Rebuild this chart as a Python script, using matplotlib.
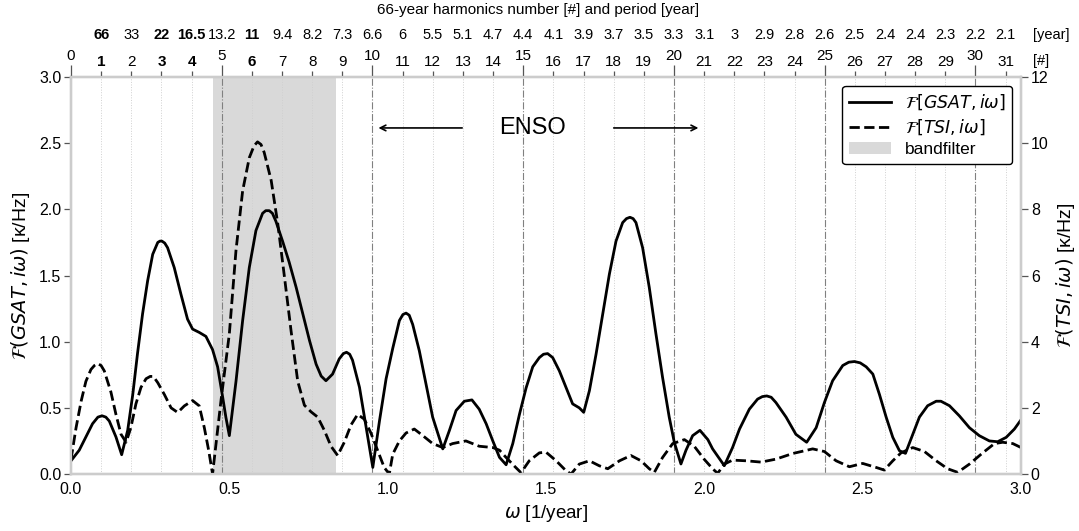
import numpy as np
import matplotlib
matplotlib.use("Agg")
import matplotlib.pyplot as plt
from matplotlib.lines import Line2D
from matplotlib.patches import Patch
import matplotlib.transforms as mtransforms

plt.rcParams['font.family'] = ['Liberation Sans', 'DejaVu Sans']
plt.rcParams['mathtext.fontset'] = 'dejavusans'

# -----------------------
# data
# -----------------------
# GSAT spectrum (left axis, K/Hz)
gsat_omega = [0.000, 0.026, 0.047, 0.068, 0.085, 0.098, 0.110, 0.121, 0.142, 0.160, 0.179, 0.195,
              0.210, 0.226, 0.242, 0.258, 0.274, 0.281, 0.287, 0.296, 0.305, 0.326, 0.347, 0.368,
              0.384, 0.405, 0.426, 0.447, 0.463, 0.479, 0.489, 0.500, 0.521, 0.542,
              0.563, 0.584, 0.605, 0.615, 0.626, 0.636, 0.647, 0.668, 0.689, 0.711, 0.732, 0.753,
              0.774, 0.790, 0.805, 0.826, 0.847, 0.860, 0.870, 0.880, 0.889, 0.911, 0.932, 0.953, 0.974,
              0.995, 1.016, 1.037, 1.048, 1.058, 1.068, 1.079, 1.100, 1.121, 1.142, 1.174, 1.195,
              1.216, 1.242, 1.266, 1.289, 1.311, 1.332, 1.353, 1.374, 1.395, 1.416,
              1.437, 1.458, 1.479, 1.492, 1.505, 1.521, 1.542, 1.563, 1.584, 1.605, 1.619,
              1.637, 1.658, 1.679, 1.700, 1.721, 1.742, 1.754, 1.765, 1.775, 1.784, 1.805, 1.826,
              1.847, 1.868, 1.889, 1.905, 1.926, 1.942, 1.963, 1.986, 2.011, 2.026,
              2.063, 2.089, 2.111, 2.142, 2.168, 2.183, 2.197, 2.211, 2.226, 2.258, 2.289, 2.323,
              2.353, 2.379, 2.405, 2.437, 2.456, 2.474, 2.492, 2.511, 2.532, 2.553, 2.574, 2.595,
              2.616, 2.635, 2.658, 2.679, 2.705, 2.732, 2.747, 2.774, 2.805, 2.837,
              2.868, 2.900, 2.926, 2.953, 2.979, 3.000]
gsat_amp = [0.10, 0.18, 0.28, 0.38, 0.43, 0.44, 0.43, 0.40, 0.28, 0.146, 0.33, 0.60,
            0.91, 1.21, 1.46, 1.66, 1.75, 1.76, 1.76, 1.745, 1.71, 1.56, 1.36, 1.17,
            1.095, 1.07, 1.04, 0.94, 0.81, 0.58, 0.43, 0.29, 0.70, 1.16,
            1.56, 1.84, 1.97, 1.99, 1.99, 1.97, 1.91, 1.76, 1.60, 1.41, 1.21, 1.01,
            0.83, 0.74, 0.705, 0.755, 0.87, 0.91, 0.92, 0.905, 0.86, 0.655, 0.35, 0.05, 0.40,
            0.72, 0.95, 1.16, 1.205, 1.216, 1.20, 1.13, 0.93, 0.68, 0.43, 0.19, 0.33,
            0.48, 0.55, 0.56, 0.49, 0.38, 0.25, 0.126, 0.07, 0.23, 0.45,
            0.65, 0.81, 0.88, 0.905, 0.91, 0.88, 0.78, 0.655, 0.53, 0.50, 0.466,
            0.63, 0.906, 1.21, 1.51, 1.76, 1.90, 1.93, 1.94, 1.93, 1.90, 1.71, 1.41,
            1.06, 0.73, 0.43, 0.24, 0.076, 0.18, 0.29, 0.33, 0.26, 0.19,
            0.063, 0.20, 0.34, 0.49, 0.566, 0.585, 0.59, 0.58, 0.54, 0.43, 0.30, 0.24,
            0.35, 0.54, 0.705, 0.82, 0.845, 0.85, 0.84, 0.81, 0.755, 0.60, 0.43, 0.277,
            0.176, 0.156, 0.30, 0.43, 0.516, 0.55, 0.55, 0.516, 0.44, 0.35,
            0.29, 0.25, 0.244, 0.277, 0.34, 0.41]

# TSI spectrum (right axis, K/Hz)
tsi_omega = [0.000, 0.016, 0.032, 0.047, 0.063, 0.074, 0.084, 0.095, 0.105, 0.126, 0.142, 0.158,
             0.174, 0.189, 0.205, 0.221, 0.237, 0.250, 0.260, 0.274, 0.295, 0.316, 0.337,
             0.358, 0.384, 0.405, 0.421, 0.435, 0.447, 0.474, 0.500, 0.521, 0.542,
             0.563, 0.578, 0.589, 0.600, 0.610, 0.632, 0.653, 0.674, 0.695, 0.716, 0.737, 0.758,
             0.779, 0.800, 0.821, 0.842, 0.863, 0.884, 0.905, 0.926, 0.947, 0.968,
             0.989, 1.005, 1.016, 1.037, 1.058, 1.084, 1.111, 1.142, 1.174, 1.205,
             1.247, 1.289, 1.332, 1.353, 1.374, 1.400, 1.421, 1.447, 1.479, 1.500,
             1.532, 1.563, 1.579, 1.605, 1.637, 1.668, 1.695, 1.732, 1.768, 1.800,
             1.826, 1.842, 1.868, 1.900, 1.937, 1.968, 2.000, 2.026, 2.042, 2.063,
             2.089, 2.132, 2.179, 2.226, 2.279, 2.342, 2.379, 2.416, 2.458, 2.500,
             2.542, 2.568, 2.595, 2.621, 2.658, 2.695, 2.732, 2.768, 2.800, 2.837,
             2.879, 2.916, 2.942, 2.974, 3.000]
tsi_amp = [0.44, 1.40, 2.20, 2.80, 3.16, 3.28, 3.34, 3.28, 3.12, 2.48, 1.80, 1.20,
           0.96, 1.40, 2.12, 2.62, 2.88, 2.95, 2.95, 2.76, 2.40, 2.00, 1.86,
           2.06, 2.22, 2.06, 1.40, 0.70, 0.00, 2.25, 4.24, 6.76, 8.56,
           9.56, 9.92, 10.04, 9.96, 9.72, 8.88, 7.56, 5.96, 4.32, 2.80, 2.08, 1.88,
           1.72, 1.32, 0.84, 0.56, 0.96, 1.48, 1.80, 1.66, 1.24, 0.72,
           0.20, 0.00, 0.60, 1.00, 1.24, 1.36, 1.16, 0.92, 0.80, 0.92,
           1.00, 0.84, 0.80, 0.72, 0.50, 0.24, 0.04, 0.40, 0.64, 0.66,
           0.40, 0.10, 0.00, 0.30, 0.40, 0.25, 0.16, 0.40, 0.56, 0.40,
           0.16, 0.05, 0.50, 0.92, 1.04, 0.84, 0.44, 0.16, 0.02, 0.30,
           0.42, 0.40, 0.36, 0.45, 0.62, 0.76, 0.68, 0.40, 0.22, 0.32,
           0.20, 0.12, 0.40, 0.64, 0.80, 0.68, 0.40, 0.16, 0.05, 0.30,
           0.64, 0.92, 0.96, 0.92, 0.80]

# harmonics of the 66-year period and their periods
base_period = 66
harmonics = list(range(0, 32))
period_labels = ['66', '33', '22', '16.5', '13.2', '11', '9.4', '8.2', '7.3', '6.6',
                 '6', '5.5', '5.1', '4.7', '4.4', '4.1', '3.9', '3.7', '3.5', '3.3',
                 '3.1', '3', '2.9', '2.8', '2.6', '2.5', '2.4', '2.4', '2.3', '2.2', '2.1']
bold_harmonics = [1, 3, 4, 6]

# band filter between 14 and 7.5 years
band_periods = [14, 7.5]

# -----------------------
# figure
# -----------------------
fig = plt.figure(figsize=(10.79, 5.31), dpi=100)
ax = fig.add_axes([0.0658, 0.1073, 0.8805, 0.7477])
ax2 = ax.twinx()
axt = ax.twiny()

harm_omega = [2 * np.pi * n / base_period for n in harmonics]

# band and vertical guide lines
ax.axvspan(2 * np.pi / band_periods[0], 2 * np.pi / band_periods[1],
           color='#d9d9d9', lw=0, zorder=0)
for n, w in zip(harmonics, harm_omega):
    if n == 0:
        continue
    if n % 5 == 0:
        ax.axvline(w, color='#808080', lw=0.8, ls='-.', zorder=1)
    else:
        ax.axvline(w, color='#d0d0d0', lw=0.7, ls=':', zorder=1)

ax.plot(gsat_omega, gsat_amp, color='black', lw=2, zorder=3)
ax2.plot(tsi_omega, tsi_amp, color='black', lw=2, ls='--', zorder=3)

ax.set_xlim(0, 3)
ax.set_ylim(0, 3)
ax2.set_ylim(0, 12)
axt.set_xlim(0, 3)

ax.set_xticks(np.arange(0, 3.01, 0.5))
ax.set_yticks(np.arange(0, 3.01, 0.5))
ax2.set_yticks(np.arange(0, 12.1, 2))
ax.xaxis.set_major_formatter(plt.FormatStrFormatter('%.1f'))
ax.yaxis.set_major_formatter(plt.FormatStrFormatter('%.1f'))

ax.set_xlabel(r'$\omega$ [1/year]', fontsize=13.5, labelpad=4)
ax.set_ylabel(r'$\mathcal{F}(GSAT, i\omega)$ [κ/Hz]', fontsize=14, labelpad=5)
ax2.set_ylabel(r'$\mathcal{F}(TSI, i\omega)$ [κ/Hz]', fontsize=14, labelpad=4)

# top axis: harmonic numbers
maj = [w for n, w in zip(harmonics, harm_omega) if n % 5 == 0]
mino = [w for n, w in zip(harmonics, harm_omega) if n % 5 != 0]
axt.set_xticks(maj)
axt.set_xticklabels([str(n) for n in harmonics if n % 5 == 0])
axt.set_xticks(mino, minor=True)
axt.set_xticklabels([str(n) for n in harmonics if n % 5 != 0], minor=True)
for lbl in axt.get_xticklabels(minor=True):
    if int(lbl.get_text()) in bold_harmonics:
        lbl.set_fontweight('bold')
axt.tick_params(axis='x', which='major', length=9, width=0.9, color='#555555',
                labelsize=11, pad=1)
axt.tick_params(axis='x', which='minor', length=4, width=0.9, color='#555555',
                labelsize=11, pad=2)

# period row
trans = mtransforms.blended_transform_factory(ax.transData, ax.transAxes)
for n, lab in zip(harmonics[1:], period_labels):
    w = 2 * np.pi * n / base_period
    axt.text(w, 1.105, lab, transform=trans, ha='center', va='center',
             fontsize=10.5, fontweight='bold' if n in bold_harmonics else 'normal')
axt.text(1.013, 1.105, '[year]', transform=ax.transAxes, ha='left', va='center', fontsize=10.5)
axt.text(1.013, 1.04, '[#]', transform=ax.transAxes, ha='left', va='center', fontsize=10.5)
fig.text(0.499, 0.982, '66-year harmonics number [#] and period [year]',
         ha='center', va='center', fontsize=11)

# spines and ticks
for a in (ax, ax2, axt):
    for s in a.spines.values():
        s.set_color('#cccccc')
        s.set_linewidth(1.6)
ax.tick_params(axis='y', length=5, width=0.9, color='#555555', labelsize=11.5, pad=2)
ax.tick_params(axis='x', length=0, labelsize=11.5, pad=6)
ax2.tick_params(axis='y', length=5, width=0.9, color='#555555', labelsize=11.5, pad=2)

# ENSO annotation
ax.text(1.457, 2.615, 'ENSO', ha='center', va='center', fontsize=17)
ax.annotate('', xy=(0.962, 2.615), xytext=(1.244, 2.615),
            arrowprops=dict(arrowstyle='->', color='black', lw=1.2))
ax.annotate('', xy=(1.99, 2.615), xytext=(1.705, 2.615),
            arrowprops=dict(arrowstyle='->', color='black', lw=1.2))

# legend
handles = [Line2D([0], [0], color='black', lw=2),
           Line2D([0], [0], color='black', lw=2, ls='--'),
           Patch(facecolor='#d9d9d9', edgecolor='none')]
labels = [r'$\mathcal{F}[GSAT, i\omega]$', r'$\mathcal{F}[TSI, i\omega]$', 'bandfilter']
leg = ax2.legend(handles, labels, loc='upper right', fontsize=12.5, frameon=True,
                 fancybox=True, framealpha=1, borderaxespad=0.5, handlelength=2.4,
                 labelspacing=0.3, handletextpad=0.8)
leg.get_frame().set_edgecolor('black')
leg.get_frame().set_linewidth(1.0)

fig.savefig('out.png', dpi=100)
